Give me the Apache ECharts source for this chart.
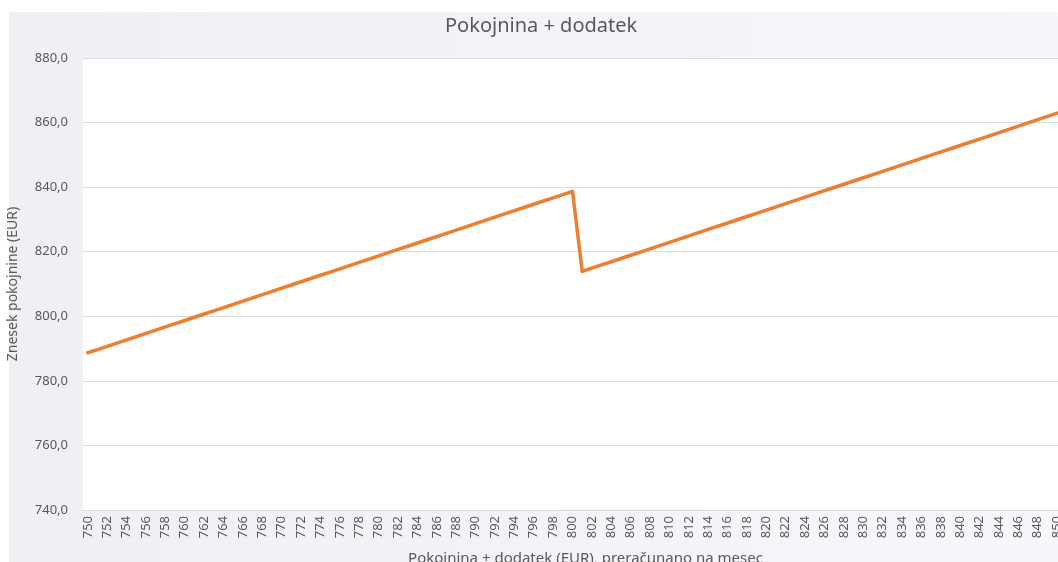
<!DOCTYPE html>
<html>
<head>
<meta charset="utf-8">
<script src="https://cdn.jsdelivr.net/npm/echarts@6/dist/echarts.min.js"></script>
<style>
  html, body { margin: 0; padding: 0; background: #fff; }
  #chartWrapper { width: 1058px; height: 562px; }
</style>
</head>
<body>
<div id="chartWrapper"></div>
<script>
// pokojnina + dodatek (EUR), od 750 do 850
var incomeAxis = [
    750,751,752,753,754,755,756,757,758,759,
    760,761,762,763,764,765,766,767,768,769,
    770,771,772,773,774,775,776,777,778,779,
    780,781,782,783,784,785,786,787,788,789,
    790,791,792,793,794,795,796,797,798,799,
    800,801,802,803,804,805,806,807,808,809,
    810,811,812,813,814,815,816,817,818,819,
    820,821,822,823,824,825,826,827,828,829,
    830,831,832,833,834,835,836,837,838,839,
    840,841,842,843,844,845,846,847,848,849,
    850
];

// znesek pokojnine
var pensionData = [
    788.7,789.7,790.7,791.7,792.7,793.7,794.7,795.7,796.7,797.7,
    798.7,799.7,800.7,801.7,802.7,803.7,804.7,805.7,806.7,807.7,
    808.7,809.7,810.7,811.7,812.7,813.7,814.7,815.7,816.7,817.7,
    818.7,819.7,820.7,821.7,822.7,823.7,824.7,825.7,826.7,827.7,
    828.7,829.7,830.7,831.7,832.7,833.7,834.7,835.7,836.7,837.7,
    838.7,813.9,814.9,815.9,816.9,817.9,818.9,819.9,820.9,821.9,
    822.9,823.9,824.9,825.9,826.9,827.9,828.9,829.9,830.9,831.9,
    832.9,833.9,834.9,835.9,836.9,837.9,838.9,839.9,840.9,841.9,
    842.9,843.9,844.9,845.9,846.9,847.9,848.9,849.9,850.9,851.9,
    852.9,853.9,854.9,855.9,856.9,857.9,858.9,859.9,860.9,861.9,
    862.9
];

var yMin = 740, yMax = 880, yStep = 20;

var chart = echarts.init(document.getElementById('chartWrapper'));

var option = {
    backgroundColor: '#ffffff',
    animation: false,
    textStyle: {
        fontFamily: 'Noto Sans'
    },
    title: {
        text: 'Pokojnina + dodatek',
        left: 440,
        top: 11,
        textStyle: {
            color: '#595959',
            fontSize: 20,
            fontWeight: 'normal'
        }
    },
    graphic: [{
        type: 'rect',
        z: -10,
        shape: { x: 9, y: 12, width: 1049, height: 550 },
        style: {
            fill: new echarts.graphic.LinearGradient(0, 0, 1, 0, [
                { offset: 0, color: '#eef0f3' },
                { offset: 1, color: '#f5f7fa' }
            ])
        }
    }],
    grid: {
        show: true,
        backgroundColor: '#ffffff',
        borderWidth: 0,
        outerBoundsMode: 'none',
        containLabel: false,
        left: 83,
        top: 58,
        width: 979,
        height: 452
    },
    xAxis: {
        type: 'category',
        data: incomeAxis,
        boundaryGap: true,
        name: 'Pokojnina + dodatek (EUR), preračunano na mesec',
        nameLocation: 'middle',
        nameGap: 41,
        nameTextStyle: {
            color: '#595959',
            fontSize: 15,
            padding: [0, 0, 0, 26]
        },
        axisLine: {
            show: true,
            lineStyle: { color: '#d9d9d9' }
        },
        axisTick: { show: false },
        axisLabel: {
            interval: 1,
            rotate: 90,
            margin: 6,
            color: '#595959',
            fontSize: 13
        },
        splitLine: { show: false }
    },
    yAxis: {
        type: 'value',
        min: yMin,
        max: yMax,
        interval: yStep,
        name: 'Znesek pokojnine (EUR)',
        nameLocation: 'middle',
        nameGap: 63,
        nameTextStyle: {
            color: '#595959',
            fontSize: 14
        },
        axisLine: { show: false },
        axisTick: { show: false },
        axisLabel: {
            margin: 15,
            color: '#595959',
            fontSize: 13,
            formatter: function (v) {
                return v.toFixed(1).replace('.', ',');
            }
        },
        splitLine: {
            lineStyle: { color: '#dcdcdc', width: 1 }
        }
    },
    series: [{
        type: 'line',
        data: pensionData,
        symbol: 'none',
        lineStyle: {
            color: '#ed7d31',
            width: 3.5,
            cap: 'round',
            join: 'round'
        },
        itemStyle: { color: '#ed7d31' }
    }]
};

chart.setOption(option);
</script>
</body>
</html>
